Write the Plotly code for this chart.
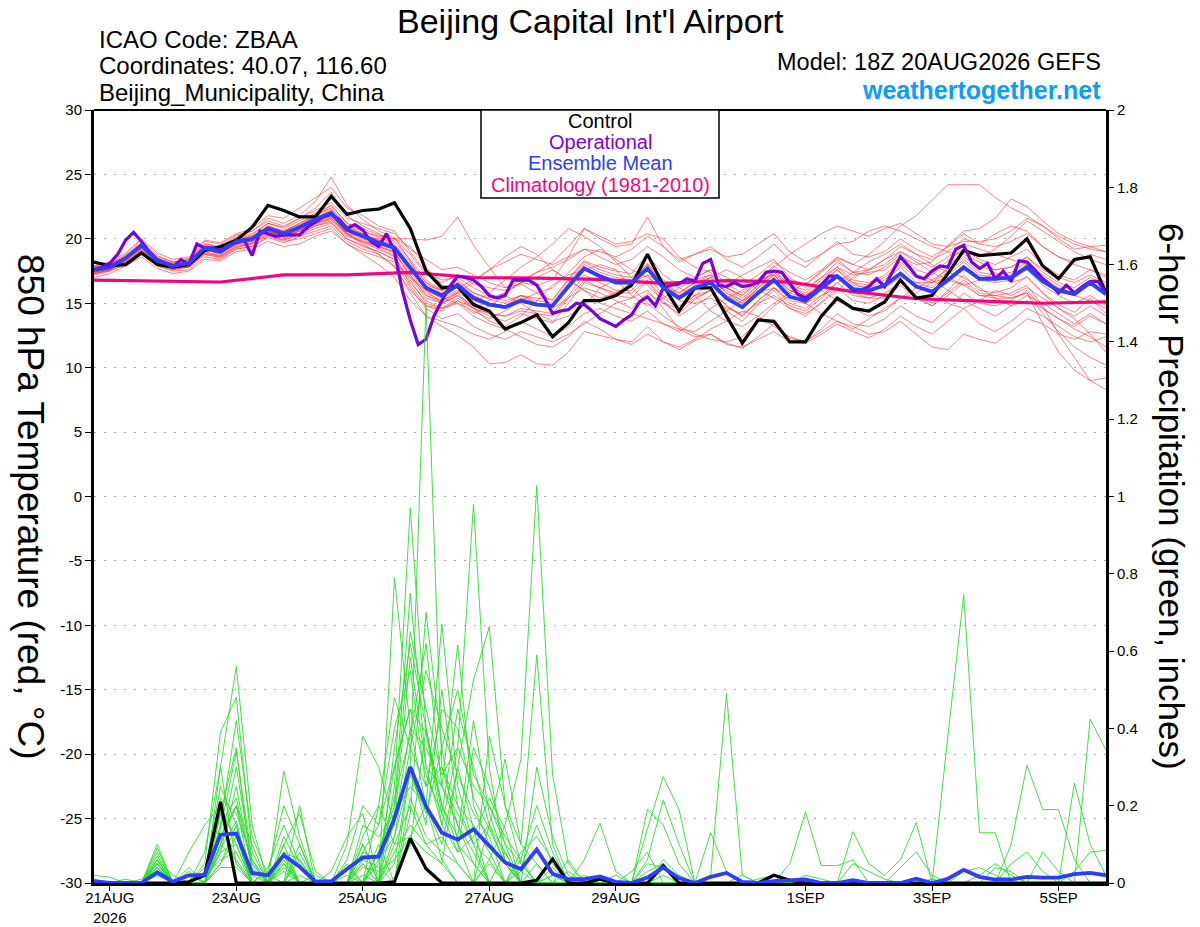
import pandas as pd
import plotly.graph_objects as go

# forecast time steps (GEFS 18Z 20AUG2026 run)
start = "2026-08-20 18:00"
steps_6h = pd.date_range(start, periods=65, freq="6h")
steps_3h = pd.date_range(start, periods=129, freq="3h")
clim_days = pd.date_range(start, periods=17, freq="24h")

# 850 hPa temperature, deg C
control_t = [
    18.2, 17.9, 18.0, 18.9, 18.0, 17.8, 18.0, 19.1, 19.4, 19.9,
    20.9, 22.6, 22.2, 21.7, 21.7, 23.3, 21.9, 22.2, 22.3, 22.8,
    20.8, 17.5, 16.2, 16.3, 14.9, 14.4, 13.0, 13.5, 14.1, 12.4,
    13.5, 15.2, 15.2, 15.6, 16.4, 18.8, 16.4, 14.4, 16.2, 16.2,
    14.0, 11.9, 13.7, 13.6, 12.0, 12.0, 14.0, 15.4, 14.6, 14.4,
    15.1, 16.8, 15.4, 15.6, 17.3, 19.1, 18.7, 18.8, 18.9, 20.0,
    17.9, 16.9, 18.4, 18.6, 15.8,
]
mean_t = [
    17.6, 17.8, 18.5, 19.5, 18.3, 17.9, 18.1, 19.3, 19.0, 19.8,
    20.0, 20.8, 20.4, 20.9, 21.5, 22.0, 20.7, 20.2, 19.7, 19.3,
    17.8, 16.2, 15.6, 16.4, 15.4, 14.9, 14.7, 15.2, 14.9, 14.8,
    16.3, 17.7, 17.1, 16.6, 16.6, 17.7, 16.2, 15.4, 16.2, 16.6,
    15.4, 14.7, 15.8, 16.8, 15.5, 15.2, 16.2, 17.1, 16.1, 16.0,
    16.4, 17.3, 16.3, 15.9, 16.8, 17.8, 16.9, 16.9, 17.0, 17.8,
    16.7, 16.0, 15.7, 16.6, 15.7,
]
# operational run is 3-hourly
oper_t = [
    17.6, 17.8, 18.1, 18.8, 19.9, 20.5, 19.8, 19.0, 18.4, 18.1,
    17.8, 18.4, 18.0, 19.6, 19.3, 19.3, 19.1, 19.5, 19.7, 19.9,
    18.7, 20.6, 20.4, 20.2, 20.3, 20.3, 20.3, 20.9, 21.3, 21.7,
    21.9, 21.5, 20.8, 21.1, 20.7, 19.8, 19.4, 20.4, 19.0, 16.0,
    13.7, 11.8, 12.2, 14.0, 15.2, 16.3, 17.1, 17.0, 16.8, 16.3,
    15.6, 15.4, 15.6, 16.8, 16.8, 16.8, 16.4, 15.4, 14.2, 14.4,
    14.5, 15.0, 14.9, 14.4, 13.8, 13.5, 13.2, 13.7, 14.1, 15.1,
    15.5, 14.8, 16.2, 16.4, 16.5, 16.9, 16.7, 18.1, 18.4, 16.4,
    16.3, 16.6, 16.3, 16.4, 16.6, 17.4, 17.5, 17.4, 16.6, 15.7,
    15.4, 15.8, 16.4, 17.1, 17.1, 16.6, 16.0, 16.0, 16.3, 16.9,
    16.3, 17.5, 18.6, 17.9, 17.1, 16.9, 17.5, 17.9, 17.8, 19.2,
    19.5, 18.2, 17.7, 18.1, 16.9, 17.5, 16.7, 18.3, 18.2, 17.6,
    16.9, 16.4, 15.8, 16.4, 15.8, 16.3, 16.7, 16.7, 15.8,
]
# daily climatology (1981-2010)
clim_t = [16.8, 16.7, 16.65, 17.2, 17.2, 17.4, 17.0, 16.95, 16.85,
          16.55, 16.75, 16.65, 15.9, 15.35, 15.15, 15.0, 15.1]

# 6-hour precipitation, inches
control_p = [
    0, 0, 0, 0, 0, 0, .003, .02, .21, 0,
    0, 0, 0, 0, 0, 0, 0, 0, 0, .003,
    .115, .037, 0, 0, 0, 0, 0, 0, .007, .062,
    0, 0, .01, 0, 0, 0, .045, 0, 0, 0,
    0, 0, 0, .02, .007, 0, 0, 0, 0, 0,
    0, 0, 0, 0, 0, 0, 0, 0, 0, 0,
    0, 0, 0, 0, 0,
]
mean_p = [
    .005, 0, 0, 0, .028, .003, .02, .021, .125, .128,
    .026, .02, .072, .042, .004, .004, .036, .066, .068, .167,
    .30, .198, .13, .112, .139, .097, .053, .036, .087, .024,
    .01, .01, .017, .003, 0, .014, .04, .013, 0, .016,
    .026, .003, 0, .005, .007, .009, 0, 0, .007, 0,
    0, 0, .011, 0, .011, .034, .016, .009, .009, .016,
    .014, .014, .023, .026, .02,
]

# ensemble members, temperature
member_t = [
    [17.8, 18.0, 18.8, 19.9, 18.7, 18.2, 18.5, 19.8, 19.6, 20.3,
     20.6, 21.6, 21.2, 21.8, 22.9, 24.8, 22.6, 21.5, 20.6, 20.1,
     18.3, 16.0, 15.0, 15.8, 14.6, 14.0, 13.6, 14.2, 13.8, 13.5,
     15.0, 16.6, 16.2, 15.6, 15.4, 16.8, 15.0, 14.2, 15.3, 16.0,
     14.4, 13.6, 14.9, 16.0, 14.6, 14.0, 15.1, 16.2, 15.2, 15.0,
     15.6, 16.7, 15.5, 14.8, 16.0, 17.2, 16.0, 15.8, 16.2, 17.1,
     15.8, 14.9, 14.3, 15.4, 14.2],
    [17.4, 17.7, 18.3, 19.2, 18.1, 17.8, 18.0, 19.1, 18.9, 19.6,
     20.0, 20.6, 20.1, 20.6, 21.2, 21.6, 20.4, 20.2, 20.0, 20.0,
     20.0, 19.9, 20.2, 21.7, 19.5, 17.8, 16.2, 16.5, 15.8, 15.2,
     16.9, 18.3, 17.8, 17.5, 17.3, 18.8, 17.2, 16.4, 17.0, 17.6,
     16.5, 15.8, 16.9, 17.9, 16.8, 16.5, 17.5, 18.4, 17.4, 17.2,
     17.8, 18.8, 17.6, 17.2, 18.3, 19.2, 18.4, 18.0, 18.6, 19.2,
     18.0, 17.2, 16.8, 17.6, 17.0],
    [17.2, 17.5, 18.0, 18.8, 17.9, 17.5, 17.6, 18.6, 18.4, 19.2,
     19.4, 20.1, 19.7, 20.2, 20.6, 21.0, 19.8, 19.2, 18.8, 17.9,
     15.8, 14.0, 13.2, 12.5, 11.6, 10.3, 10.4, 11.0, 10.3, 10.2,
     11.2, 12.8, 12.5, 12.2, 12.0, 13.2, 12.0, 11.4, 12.1, 12.6,
     11.9, 11.5, 12.4, 13.4, 12.3, 12.0, 13.0, 14.2, 13.4, 13.2,
     13.8, 14.8, 14.0, 13.5, 14.6, 15.8, 15.0, 14.8, 15.2, 16.0,
     14.6, 13.8, 13.2, 14.0, 13.4],
    [17.7, 17.9, 18.6, 19.6, 18.4, 18.0, 18.2, 19.4, 19.2, 19.9,
     20.2, 21.0, 20.6, 21.2, 21.8, 22.3, 21.0, 20.6, 20.1, 19.6,
     18.2, 16.6, 16.0, 16.6, 15.8, 15.3, 15.0, 15.6, 15.4, 15.3,
     16.8, 18.2, 17.6, 17.2, 17.0, 18.1, 16.8, 16.2, 16.8, 17.2,
     16.2, 15.6, 16.6, 17.4, 16.5, 16.4, 17.4, 18.5, 18.0, 18.8,
     19.8, 21.0, 21.8, 23.0, 24.2, 24.2, 24.2, 23.2, 22.4, 21.8,
     21.0, 20.2, 19.6, 19.2, 19.0],
    [17.5, 17.6, 18.4, 19.3, 18.2, 17.7, 18.0, 19.2, 18.8, 19.6,
     19.8, 20.6, 20.3, 20.6, 21.3, 21.8, 20.4, 19.9, 19.4, 19.0,
     17.2, 15.6, 15.2, 15.9, 15.0, 15.8, 16.8, 17.8, 18.6, 19.6,
     20.8, 20.2, 19.4, 18.2, 17.0, 16.4, 15.2, 14.0, 14.8, 15.6,
     16.4, 17.2, 17.8, 18.4, 17.0, 16.2, 17.0, 17.8, 17.2, 17.4,
     17.6, 18.6, 18.0, 18.2, 19.5, 20.6, 20.8, 21.6, 23.1, 22.5,
     21.4, 20.4, 19.8, 19.4, 19.5],
    [17.6, 17.8, 18.4, 19.4, 18.2, 17.9, 18.0, 19.2, 19.0, 19.7,
     19.8, 20.6, 20.2, 20.7, 21.2, 21.7, 20.6, 20.0, 19.5, 19.0,
     17.0, 15.4, 15.0, 15.6, 14.8, 14.2, 14.0, 14.6, 14.4, 14.2,
     15.6, 17.2, 16.6, 16.0, 16.0, 17.2, 15.6, 14.8, 15.6, 16.0,
     14.8, 14.0, 15.2, 16.2, 15.0, 14.6, 15.6, 16.6, 15.6, 15.4,
     15.8, 16.6, 15.6, 15.0, 15.8, 16.8, 15.8, 15.6, 15.4, 15.8,
     13.4, 11.2, 9.8, 9.0, 8.3],
    [17.3, 17.6, 18.2, 19.0, 18.0, 17.6, 17.9, 18.9, 18.7, 19.4,
     19.7, 20.4, 20.0, 20.4, 21.0, 21.4, 20.2, 19.8, 19.3, 18.7,
     16.4, 14.8, 14.4, 15.2, 14.6, 13.6, 13.2, 14.0, 15.2, 16.4,
     17.2, 17.6, 18.0, 17.6, 16.2, 15.0, 14.0, 13.2, 12.6, 12.2,
     12.0, 12.4, 13.6, 14.8, 15.6, 15.0, 14.2, 13.6, 13.0, 13.8,
     14.6, 15.4, 15.8, 16.6, 17.0, 16.4, 15.6, 15.6, 15.8, 16.4,
     14.8, 12.6, 10.8, 9.0, 9.2],
    [17.9, 18.1, 18.7, 19.7, 18.6, 18.2, 18.4, 19.6, 19.3, 20.1,
     20.4, 21.2, 20.8, 21.4, 22.0, 22.6, 21.2, 20.8, 20.3, 20.0,
     18.8, 17.2, 16.6, 17.2, 16.5, 16.2, 16.0, 16.6, 16.4, 16.8,
     18.6, 20.8, 20.0, 19.4, 19.6, 21.7, 19.4, 18.2, 18.8, 19.4,
     18.4, 17.8, 18.6, 19.6, 18.4, 17.8, 18.8, 19.8, 18.8, 18.6,
     19.0, 20.0, 19.2, 18.6, 19.4, 20.4, 19.6, 19.4, 19.8, 20.4,
     19.4, 18.6, 18.2, 18.8, 18.4],
    [17.4, 17.7, 18.2, 19.1, 18.0, 17.7, 17.8, 18.9, 18.6, 19.4,
     19.6, 20.3, 19.9, 20.4, 21.0, 21.3, 20.0, 19.4, 19.0, 18.4,
     16.2, 14.6, 13.8, 14.2, 13.2, 12.6, 12.2, 12.8, 12.4, 12.0,
     12.6, 13.4, 14.2, 15.0, 15.4, 16.0, 14.6, 13.0, 12.4, 12.6,
     11.8, 11.6, 12.2, 12.8, 12.0, 11.9, 12.6, 13.4, 12.8, 12.3,
     13.0, 14.0, 13.2, 12.6, 13.6, 14.6, 13.4, 12.8, 13.6, 14.6,
     14.0, 13.2, 12.4, 12.0, 12.4],
    [17.6, 17.9, 18.6, 19.5, 18.4, 18.0, 18.3, 19.4, 19.1, 19.9,
     20.1, 20.9, 20.5, 21.0, 21.6, 22.2, 20.8, 20.3, 19.9, 19.5,
     18.0, 16.6, 15.8, 16.6, 15.6, 15.0, 14.8, 15.6, 15.2, 15.0,
     16.6, 18.0, 17.4, 17.0, 16.8, 18.0, 16.4, 15.6, 16.4, 17.0,
     15.8, 15.0, 16.2, 17.2, 15.8, 15.4, 16.6, 17.6, 16.4, 16.2,
     16.8, 17.8, 16.6, 16.2, 17.2, 18.2, 17.2, 17.0, 17.2, 18.0,
     16.8, 16.0, 15.6, 16.6, 15.8],
    [17.5, 17.8, 18.5, 19.4, 18.3, 17.8, 18.1, 19.2, 19.0, 19.7,
     20.0, 20.8, 20.5, 21.0, 21.8, 22.6, 21.2, 20.6, 20.2, 20.0,
     19.4, 17.8, 16.4, 16.2, 16.8, 17.6, 18.2, 18.8, 18.4, 18.0,
     18.6, 19.2, 19.0, 18.6, 19.2, 20.2, 19.4, 18.4, 18.8, 19.2,
     18.6, 18.8, 19.6, 20.4, 19.0, 18.2, 18.8, 19.6, 19.8, 20.6,
     21.0, 20.6, 20.0, 19.4, 19.0, 18.8, 18.2, 17.6, 17.8, 18.6,
     17.6, 17.0, 16.6, 17.2, 16.6],
    [17.4, 17.6, 18.3, 19.2, 18.1, 17.7, 17.9, 19.0, 18.7, 19.5,
     19.7, 20.5, 20.1, 20.6, 21.1, 21.5, 20.3, 19.7, 19.2, 18.6,
     16.8, 15.0, 14.6, 15.2, 14.2, 14.8, 15.6, 15.0, 14.2, 13.6,
     14.0, 14.8, 16.2, 16.8, 15.6, 14.8, 15.4, 16.2, 15.6, 14.4,
     13.6, 13.2, 14.0, 15.0, 15.8, 16.6, 16.0, 15.2, 14.6, 14.0,
     14.4, 15.4, 16.2, 16.8, 16.0, 15.2, 14.6, 14.0, 14.8, 15.6,
     15.0, 14.2, 13.4, 14.2, 13.4],
    [17.7, 18.0, 18.6, 19.6, 18.4, 18.1, 18.3, 19.5, 19.2, 20.0,
     20.2, 21.0, 20.6, 21.2, 21.9, 22.4, 21.0, 20.4, 19.9, 19.4,
     17.6, 16.0, 15.4, 16.0, 15.2, 14.8, 14.6, 15.2, 14.8, 14.8,
     16.4, 17.8, 17.2, 16.8, 16.8, 17.8, 16.4, 15.8, 16.6, 17.2,
     16.2, 15.6, 16.8, 17.8, 18.8, 19.6, 20.4, 21.0, 20.6, 20.2,
     20.8, 21.2, 20.4, 19.6, 19.4, 19.8, 19.8, 20.0, 20.6, 21.6,
     21.0, 20.0, 19.2, 19.4, 19.0],
    [17.6, 17.7, 18.4, 19.3, 18.2, 17.8, 18.0, 19.1, 18.9, 19.6,
     19.9, 20.6, 20.3, 20.8, 21.3, 21.9, 20.6, 20.1, 19.6, 19.2,
     17.4, 15.8, 15.2, 15.8, 16.6, 17.6, 18.6, 19.4, 18.8, 17.6,
     16.8, 16.0, 15.4, 15.8, 16.6, 17.2, 16.4, 15.6, 16.2, 17.0,
     17.6, 17.0, 16.0, 15.4, 14.6, 14.2, 15.0, 16.0, 17.0, 17.6,
     18.4, 19.0, 18.2, 17.4, 16.8, 16.4, 16.8, 17.4, 16.6, 17.0,
     15.8, 14.6, 13.8, 12.6, 11.2],
    [17.8, 18.0, 18.6, 19.5, 18.5, 18.0, 18.2, 19.3, 19.1, 19.8,
     20.1, 20.9, 20.6, 21.1, 21.7, 22.1, 20.9, 20.4, 19.8, 19.4,
     17.9, 16.4, 16.0, 16.8, 15.8, 15.4, 15.8, 16.6, 17.4, 18.2,
     19.4, 20.8, 20.2, 19.6, 19.8, 20.4, 20.0, 18.6, 17.8, 17.4,
     16.2, 15.4, 16.4, 17.4, 16.2, 15.8, 16.8, 17.8, 16.8, 16.6,
     17.2, 18.2, 17.2, 16.8, 17.6, 18.6, 17.8, 17.6, 17.8, 18.6,
     17.4, 16.6, 16.2, 17.0, 16.4],
    [17.5, 17.8, 18.4, 19.4, 18.3, 17.9, 18.0, 19.2, 19.0, 19.8,
     20.0, 20.8, 20.4, 20.8, 21.4, 21.8, 20.4, 19.6, 18.8, 17.8,
     16.0, 14.8, 14.6, 15.4, 14.6, 14.2, 14.0, 14.4, 14.2, 14.0,
     15.4, 16.8, 16.2, 15.8, 15.8, 16.8, 15.4, 14.6, 15.4, 16.0,
     14.8, 14.0, 15.2, 16.2, 15.2, 15.0, 16.0, 17.0, 16.0, 15.8,
     16.4, 17.4, 16.4, 15.8, 16.6, 17.6, 16.8, 16.6, 16.8, 17.6,
     16.4, 15.6, 15.0, 15.6, 14.8],
    [17.6, 17.8, 18.5, 19.6, 18.4, 18.0, 18.2, 19.4, 19.2, 20.0,
     20.3, 21.2, 20.9, 21.6, 22.4, 23.6, 21.8, 21.0, 20.4, 19.8,
     18.4, 16.8, 16.0, 16.4, 15.6, 15.0, 14.8, 15.4, 15.0, 14.8,
     16.2, 17.6, 17.0, 16.6, 16.6, 17.6, 16.2, 15.4, 16.0, 16.6,
     15.6, 15.0, 16.2, 17.2, 16.0, 15.6, 16.6, 17.6, 16.6, 16.4,
     17.0, 18.0, 17.0, 16.6, 17.4, 18.4, 17.4, 17.2, 17.4, 18.2,
     17.0, 16.2, 15.8, 16.6, 15.8],
    [17.3, 17.6, 18.2, 19.0, 17.9, 17.6, 17.8, 18.8, 18.6, 19.3,
     19.6, 20.3, 19.9, 20.3, 20.8, 21.2, 20.0, 19.5, 19.0, 18.4,
     16.6, 15.2, 14.6, 15.0, 14.0, 13.4, 13.0, 12.4, 11.8, 11.6,
     12.4, 13.6, 13.0, 12.2, 11.8, 12.6, 12.0, 11.6, 12.2, 13.0,
     13.6, 14.4, 14.0, 13.2, 12.4, 12.0, 12.8, 13.6, 13.2, 12.6,
     12.8, 13.6, 12.6, 11.6, 11.4, 12.6, 12.2, 11.9, 12.8, 13.8,
     13.4, 12.6, 12.2, 12.8, 12.6],
    [17.7, 17.9, 18.5, 19.5, 18.4, 18.0, 18.1, 19.3, 19.0, 19.8,
     20.1, 20.9, 20.5, 21.0, 21.6, 22.0, 20.7, 20.2, 19.7, 19.3,
     17.8, 16.2, 15.6, 16.3, 15.4, 14.9, 14.7, 15.3, 15.0, 14.8,
     16.4, 17.8, 17.2, 16.8, 16.8, 18.0, 16.6, 15.8, 16.6, 17.0,
     15.8, 15.2, 16.4, 17.6, 16.4, 16.0, 17.0, 18.2, 17.4, 17.6,
     18.4, 19.4, 18.8, 18.4, 19.0, 20.0, 19.6, 20.4, 21.0, 20.6,
     19.4, 18.6, 18.0, 17.6, 17.2],
    [17.5, 17.7, 18.4, 19.3, 18.2, 17.8, 18.0, 19.1, 18.9, 19.6,
     19.9, 20.6, 20.2, 20.7, 21.2, 21.6, 20.4, 19.8, 19.4, 18.9,
     17.2, 15.6, 15.0, 15.6, 14.6, 15.2, 15.8, 16.6, 17.0, 17.6,
     16.8, 16.0, 15.0, 14.6, 14.2, 13.8, 13.4, 13.0, 12.8, 13.6,
     14.4, 15.2, 15.8, 16.2, 15.6, 15.0, 15.6, 16.2, 15.8, 15.4,
     15.4, 16.4, 15.4, 14.8, 15.6, 16.6, 15.6, 15.4, 15.4, 15.8,
     14.2, 12.8, 11.6, 10.8, 10.2],
    [17.0, 17.3, 17.9, 18.6, 17.7, 17.3, 17.5, 18.4, 18.3, 19.0,
     19.2, 19.8, 19.4, 19.6, 20.2, 20.6, 19.6, 19.0, 18.6, 18.2,
     17.0, 16.0, 15.4, 15.0, 14.4, 13.8, 14.4, 15.2, 15.8, 16.2,
     17.4, 18.6, 19.2, 18.4, 17.6, 17.0, 16.2, 15.2, 15.0, 15.4,
     14.6, 14.2, 15.0, 15.6, 14.8, 14.4, 15.4, 16.6, 17.4, 18.2,
     18.8, 19.6, 18.8, 18.0, 17.4, 17.0, 16.2, 15.4, 14.8, 15.2,
     14.6, 13.8, 13.0, 12.4, 11.6],
    [17.9, 18.2, 18.9, 20.0, 18.9, 18.4, 18.6, 19.9, 19.7, 20.4,
     20.8, 21.8, 21.6, 22.4, 23.2, 24.0, 22.4, 21.8, 21.0, 20.6,
     19.0, 17.4, 16.8, 17.0, 16.2, 15.6, 15.2, 15.6, 15.0, 14.6,
     15.4, 16.2, 15.8, 15.2, 14.6, 15.8, 15.0, 14.6, 15.6, 16.6,
     16.0, 15.2, 16.0, 17.0, 16.0, 15.6, 16.4, 17.2, 16.6, 16.0,
     16.2, 17.0, 16.6, 16.6, 17.8, 19.0, 18.6, 19.2, 20.2, 21.4,
     20.6, 19.8, 19.0, 18.4, 18.0],
    [17.3, 17.5, 18.1, 19.1, 18.1, 17.7, 17.8, 18.8, 18.5, 19.2,
     19.4, 20.2, 19.8, 20.0, 20.4, 20.8, 19.6, 18.8, 18.0, 17.0,
     15.2, 14.0, 13.6, 13.2, 12.6, 12.2, 12.8, 13.6, 13.0, 12.4,
     13.2, 14.2, 14.6, 14.0, 13.6, 14.4, 13.4, 12.8, 13.6, 14.6,
     15.4, 16.0, 16.8, 17.2, 16.4, 15.6, 16.2, 17.0, 16.2, 15.8,
     16.4, 17.2, 16.4, 15.8, 15.0, 14.6, 15.2, 16.0, 15.6, 16.2,
     15.4, 14.6, 14.0, 14.8, 14.0],
    [17.6, 17.9, 18.6, 19.7, 18.5, 18.1, 18.4, 19.6, 19.4, 20.2,
     20.6, 21.4, 21.0, 21.6, 22.2, 22.8, 21.6, 21.2, 20.8, 20.4,
     19.2, 18.4, 17.6, 17.8, 17.2, 16.6, 16.2, 16.8, 17.4, 17.8,
     18.4, 19.2, 18.6, 18.0, 18.4, 19.4, 18.6, 17.6, 17.0, 17.6,
     17.0, 16.4, 17.2, 18.2, 17.4, 16.8, 17.6, 18.6, 18.0, 17.6,
     18.0, 19.0, 18.4, 17.8, 18.6, 19.6, 19.2, 18.8, 18.4, 18.0,
     17.2, 16.4, 15.6, 15.2, 14.6],
]

# ensemble members, precipitation
member_p = [
    [0, 0, 0, 0, .03, 0, 0, 0, .30, .56,
     .15, 0, .05, 0, 0, 0, 0, .10, 0, .25,
     .97, .40, .20, .10, 0, .05, 0, 0, .05, 0,
     0, 0, 0, 0, 0, 0, .02, 0, 0, 0,
     0, 0, 0, 0, 0, 0, 0, 0, 0, 0,
     0, 0, 0, 0, 0, 0, 0, 0, 0, 0,
     0, 0, 0, 0, 0],
    [0, 0, 0, 0, .10, 0, 0, .05, .39, .48,
     .08, 0, 0, .20, 0, 0, .05, 0, .10, 0,
     .30, 1.50, .30, .15, .05, 0, 0, .03, 0, 0,
     0, 0, 0, 0, 0, 0, 0, 0, 0, .02,
     .49, .02, 0, 0, 0, 0, 0, 0, 0, 0,
     0, 0, 0, 0, 0, 0, 0, 0, 0, 0,
     0, 0, 0, 0, 0],
    [0, 0, 0, 0, .06, 0, .08, .15, .20, .10,
     0, 0, .29, .12, 0, 0, 0, .05, 0, .79,
     .40, .20, .67, .25, .10, 0, 0, 0, 0, .02,
     0, 0, 0, 0, 0, 0, 0, 0, 0, 0,
     0, 0, 0, 0, 0, 0, 0, 0, 0, 0,
     0, 0, 0, 0, .38, .745, .13, .13, 0, 0,
     0, 0, 0, 0, 0],
    [0, 0, 0, 0, .05, 0, 0, 0, .10, .30,
     .05, 0, .10, 0, 0, 0, .10, .38, .30, .15,
     .585, .30, .25, .616, .20, .10, .05, 0, 0, 0,
     0, 0, 0, 0, 0, .14, .275, .19, 0, 0,
     0, 0, 0, 0, 0, 0, 0, 0, 0, 0,
     0, 0, 0, 0, 0, 0, 0, 0, 0, 0,
     0, 0, 0, 0, 0],
    [0, 0, 0, 0, .08, 0, 0, .03, .25, .15,
     0, .04, .15, .05, 0, 0, 0, 0, .05, .30,
     .45, .39, .15, .35, .98, .30, .05, 0, 0, 0,
     0, .06, .155, .03, 0, 0, 0, 0, 0, 0,
     0, 0, 0, 0, .05, .184, .045, .045, .06, 0,
     0, 0, 0, 0, 0, 0, 0, 0, 0, 0,
     0, 0, 0, 0, 0],
    [0, 0, 0, 0, .04, 0, 0, 0, .15, .22,
     .04, 0, 0, .10, 0, 0, 0, .15, .12, .18,
     .25, .20, .10, .30, .525, .663, .20, .05, 0, 0,
     0, 0, 0, 0, 0, .19, .15, .05, 0, 0,
     0, 0, 0, 0, 0, 0, 0, 0, 0, 0,
     0, 0, 0, 0, 0, 0, 0, 0, 0, 0,
     0, 0, 0, 0, 0],
    [0, 0, 0, 0, .02, 0, 0, .08, .30, .05,
     0, 0, .08, 0, 0, 0, 0, 0, 0, .10,
     .20, .10, .12, .05, 0, .06, .15, .32, 1.028, .28,
     .05, 0, 0, 0, 0, 0, 0, 0, 0, .13,
     .03, 0, 0, 0, 0, 0, 0, 0, 0, 0,
     0, 0, 0, 0, 0, 0, 0, 0, 0, 0,
     0, 0, 0, 0, 0],
    [0, 0, 0, 0, .07, 0, .04, 0, .12, .20,
     .10, 0, .06, 0, .02, 0, 0, .08, .15, .40,
     .55, .25, .30, .20, .10, .15, .32, .10, .59, .10,
     0, 0, 0, 0, 0, .06, .215, .10, 0, 0,
     0, 0, 0, 0, 0, 0, 0, 0, 0, 0,
     0, 0, 0, 0, 0, 0, 0, 0, 0, 0,
     0, 0, 0, 0, 0],
    [0, 0, 0, 0, .03, 0, 0, 0, .05, .12,
     0, 0, .03, 0, 0, 0, .02, 0, .20, .10,
     .12, .08, .05, 0, 0, .15, .08, 0, 0, 0,
     0, 0, 0, 0, 0, 0, 0, 0, 0, 0,
     0, 0, 0, 0, 0, 0, 0, 0, .133, .05,
     .02, .06, .156, 0, 0, 0, 0, 0, 0, 0,
     0, 0, 0, 0, 0],
    [0, 0, 0, 0, .06, .02, 0, 0, .18, .35,
     .02, 0, 0, .06, 0, 0, 0, .02, 0, .18,
     .65, .45, .28, .35, .25, .20, .10, .05, 0, 0,
     .06, 0, 0, 0, 0, 0, 0, 0, 0, 0,
     0, 0, 0, 0, 0, 0, 0, 0, 0, 0,
     0, 0, 0, 0, 0, 0, 0, 0, .10, .305,
     .19, .19, .06, 0, 0],
    [0, 0, 0, 0, .04, 0, 0, 0, .08, .10,
     0, 0, .12, .04, 0, 0, 0, 0, .06, .12,
     .35, .55, .40, .28, .18, .12, 0, .08, .12, .06,
     0, 0, 0, 0, 0, 0, 0, 0, 0, 0,
     0, 0, 0, 0, 0, 0, 0, 0, 0, 0,
     0, 0, 0, 0, 0, 0, 0, 0, 0, 0,
     0, 0, .258, .10, .02],
    [0, 0, 0, .01, .05, 0, 0, 0, .22, .18,
     .06, 0, 0, 0, 0, 0, 0, .05, 0, 0,
     .18, .70, .35, .10, .05, 0, 0, 0, 0, .04,
     0, 0, 0, 0, 0, 0, 0, 0, 0, 0,
     0, 0, 0, 0, 0, 0, 0, 0, 0, 0,
     0, 0, 0, 0, 0, 0, 0, 0, 0, 0,
     0, 0, 0, .424, .344],
    [0, 0, 0, 0, .02, 0, 0, .02, .06, .08,
     0, 0, .04, 0, 0, 0, 0, 0, 0, .05,
     .30, .15, .50, .20, .15, .08, 0, 0, 0, 0,
     0, 0, 0, 0, 0, .05, .04, 0, 0, 0,
     0, 0, 0, 0, 0, 0, 0, 0, 0, 0,
     0, .04, .08, .02, 0, 0, 0, 0, 0, 0,
     0, 0, 0, 0, 0],
    [0, 0, 0, 0, .05, 0, 0, 0, .10, .06,
     0, 0, .10, .18, .03, 0, 0, 0, .08, .20,
     .75, .30, .15, .08, .35, .25, .10, 0, 0, 0,
     0, 0, 0, 0, 0, 0, 0, 0, 0, 0,
     0, 0, 0, 0, 0, 0, 0, 0, 0, 0,
     0, 0, 0, 0, 0, 0, 0, 0, 0, 0,
     0, 0, .03, .08, .084],
    [0, 0, 0, 0, .03, 0, 0, 0, .04, .04,
     0, 0, 0, 0, 0, 0, 0, .04, .03, .06,
     .12, .20, .06, 0, 0, 0, 0, .04, .15, .05,
     0, 0, 0, 0, 0, 0, 0, 0, 0, 0,
     0, 0, 0, 0, 0, .02, .01, 0, 0, 0,
     0, 0, 0, 0, 0, .03, .04, .02, 0, 0,
     .08, .03, 0, 0, 0],
    [0, 0, 0, 0, .09, 0, 0, 0, .15, .42,
     .12, .02, 0, .08, 0, 0, 0, .12, .20, .48,
     .35, .25, .45, .40, .22, .14, .05, 0, 0, 0,
     0, 0, 0, 0, 0, 0, .06, .02, 0, 0,
     0, 0, 0, 0, 0, 0, 0, 0, 0, 0,
     0, 0, 0, 0, 0, 0, 0, 0, 0, 0,
     0, 0, 0, 0, 0],
    [0, 0, 0, 0, .04, 0, 0, 0, .18, .12,
     0, 0, .07, 0, 0, 0, 0, .06, .04, 0,
     .22, .12, .08, .05, 0, .38, .20, .10, .05, 0,
     0, 0, 0, 0, 0, 0, 0, 0, 0, 0,
     0, .02, 0, 0, 0, 0, 0, 0, 0, 0,
     0, 0, 0, 0, 0, 0, 0, 0, .05, .08,
     .03, 0, 0, 0, 0],
    [0, 0, 0, 0, .06, 0, 0, 0, .08, .25,
     .03, 0, .05, 0, 0, 0, .04, 0, 0, 0,
     .10, .40, .20, .12, .42, .18, .06, 0, 0, 0,
     0, 0, 0, .02, 0, .03, .05, 0, 0, 0,
     0, 0, 0, 0, 0, 0, 0, 0, 0, 0,
     0, 0, 0, .01, 0, 0, 0, .04, .03, 0,
     0, 0, 0, 0, 0],
    [.02, .015, 0, 0, .02, 0, 0, 0, .05, .15,
     0, 0, 0, .02, 0, 0, 0, 0, 0, .08,
     .15, .10, .05, .30, .14, 0, .08, 0, 0, .02,
     0, 0, 0, 0, 0, 0, 0, 0, 0, 0,
     0, 0, 0, 0, 0, 0, 0, 0, .05, .03,
     .01, 0, 0, 0, 0, 0, 0, 0, 0, 0,
     0, 0, 0, 0, 0],
    [.01, 0, 0, 0, .05, 0, .03, 0, .12, .20,
     .05, 0, .05, 0, 0, 0, 0, .08, .06, .15,
     .40, .35, .25, .18, .10, .06, 0, 0, 0, 0,
     .03, 0, 0, 0, 0, 0, 0, 0, 0, 0,
     0, 0, .01, .02, 0, 0, 0, 0, 0, 0,
     0, 0, 0, 0, 0, 0, 0, 0, 0, 0,
     0, 0, 0, 0, 0],
    [0, 0, 0, 0, .04, 0, 0, 0, .10, .20,
     0, 0, 0, 0, 0, 0, .06, .20, .15, .30,
     .45, .28, .18, .45, .30, .15, .05, 0, 0, 0,
     0, 0, 0, 0, 0, 0, 0, 0, 0, 0,
     0, 0, 0, 0, 0, 0, 0, 0, 0, 0,
     0, 0, 0, 0, 0, 0, 0, 0, 0, 0,
     0, 0, 0, 0, 0],
    [0, 0, .01, 0, .06, 0, 0, .04, .18, .05,
     0, .03, .20, .10, 0, 0, 0, 0, .08, .22,
     .38, .62, .25, .15, .08, 0, 0, .06, .20, .08,
     0, 0, 0, 0, .03, .08, 0, 0, 0, 0,
     0, 0, 0, 0, 0, 0, 0, 0, 0, 0,
     0, 0, 0, 0, 0, 0, 0, 0, 0, 0,
     0, 0, 0, 0, 0],
    [0, 0, 0, 0, .03, 0, 0, 0, .14, .34,
     .06, 0, 0, 0, 0, .03, .12, .18, 0, .12,
     .28, .18, .35, .50, .28, .20, .12, .06, 0, 0,
     0, .02, 0, 0, 0, 0, 0, 0, 0, 0,
     0, 0, 0, 0, 0, 0, 0, 0, 0, 0,
     0, 0, 0, 0, 0, 0, 0, 0, 0, 0,
     0, 0, 0, 0, 0],
    [0, 0, 0, 0, .05, 0, .02, 0, .09, .16,
     0, 0, .08, .06, 0, 0, 0, .10, 0, .35,
     .62, .40, .18, .08, .12, .22, .14, 0, .30, .12,
     .02, 0, 0, 0, 0, 0, 0, 0, 0, 0,
     0, 0, 0, 0, 0, 0, 0, 0, 0, 0,
     0, 0, 0, 0, 0, 0, .02, .05, .02, 0,
     0, 0, 0, 0, 0],
]

# axis ticks
temp_ticks = list(range(-30, 35, 5))
temp_labels = [str(v) for v in temp_ticks]
precip_ticks = [0, 0.2, 0.4, 0.6, 0.8, 1, 1.2, 1.4, 1.6, 1.8, 2]
precip_labels = ["0", "0.2", "0.4", "0.6", "0.8", "1", "1.2", "1.4", "1.6", "1.8", "2"]
date_ticks = ["2026-08-21", "2026-08-23", "2026-08-25", "2026-08-27",
              "2026-08-29", "2026-09-01", "2026-09-03", "2026-09-05"]
date_labels = ["21AUG<br>2026", "23AUG", "25AUG", "27AUG", "29AUG",
               "1SEP", "3SEP", "5SEP"]

FONT = "Liberation Sans, Arial, Helvetica, sans-serif"
# plot box in window pixels
L, R, T, B = 94, 1106, 110, 883
W, H = 1200, 927


def px(xp):
    return (xp - L) / (R - L)


def py(yp):
    return (B - yp) / (B - T)


fig = go.Figure()

for m in member_t:
    fig.add_trace(go.Scatter(x=steps_6h, y=m, mode="lines",
                             line=dict(color="rgba(255,45,45,0.75)", width=0.8),
                             hoverinfo="skip"))

fig.add_trace(go.Scatter(x=clim_days, y=clim_t, mode="lines",
                         line=dict(color="#f0077f", width=3.2)))
fig.add_trace(go.Scatter(x=steps_6h, y=control_t, mode="lines",
                         line=dict(color="black", width=3.2)))
fig.add_trace(go.Scatter(x=steps_3h, y=oper_t, mode="lines",
                         line=dict(color="#7b00e0", width=3.2)))
fig.add_trace(go.Scatter(x=steps_6h, y=mean_t, mode="lines",
                         line=dict(color="#2b3dff", width=3.8)))

for m in member_p:
    fig.add_trace(go.Scatter(x=steps_6h, y=m, mode="lines", yaxis="y2",
                             line=dict(color="#2ddc2d", width=0.9),
                             hoverinfo="skip"))

fig.add_trace(go.Scatter(x=steps_6h, y=control_p, mode="lines", yaxis="y2",
                         line=dict(color="black", width=3.2)))
fig.add_trace(go.Scatter(x=steps_6h, y=mean_p, mode="lines", yaxis="y2",
                         line=dict(color="#2b3dff", width=3.8)))

fig.update_layout(
    width=W, height=H,
    margin=dict(l=L, r=W - R, t=T, b=H - B, autoexpand=False),
    plot_bgcolor="white", paper_bgcolor="white",
    showlegend=False,
    font=dict(family=FONT, color="black", size=15),
    xaxis=dict(
        range=[steps_6h[0], steps_6h[-1]], automargin=False,
        tickvals=date_ticks, ticktext=date_labels,
        ticks="outside", ticklen=5, tickcolor="black",
        ticklabelstandoff=-6,
        showline=True, linewidth=3, linecolor="black",
        showgrid=False, zeroline=False,
        tickfont=dict(size=15),
    ),
    yaxis=dict(
        range=[-30, 30], automargin=False,
        tickvals=temp_ticks, ticktext=temp_labels,
        ticks="outside", ticklen=6, tickcolor="black",
        showline=True, linewidth=3, linecolor="black",
        showgrid=True, gridcolor="#a8a8a8", gridwidth=1, griddash="2px,8px",
        zeroline=False, tickfont=dict(size=15),
    ),
    yaxis2=dict(
        range=[0, 2], overlaying="y", side="right", automargin=False,
        tickvals=precip_ticks, ticktext=precip_labels,
        ticks="outside", ticklen=5, tickcolor="black",
        showline=True, linewidth=3, linecolor="black",
        showgrid=False, zeroline=False, tickfont=dict(size=15),
    ),
)

# top border of the plot box
fig.add_shape(type="line", xref="paper", yref="paper", x0=0, x1=1, y0=1, y1=1,
              line=dict(color="black", width=2))

# legend box
fig.add_shape(type="rect", xref="paper", yref="paper",
              x0=px(481), x1=px(719), y0=py(198), y1=py(110),
              line=dict(color="black", width=1.5), fillcolor="white")
legend_items = [("Control", "black", 121), ("Operational", "#7b00e0", 142),
                ("Ensemble Mean", "#2b3dff", 163),
                ("Climatology (1981-2010)", "#f0077f", 185)]
for text, color, ypix in legend_items:
    fig.add_annotation(text=text, xref="paper", yref="paper", x=px(600), y=py(ypix),
                       showarrow=False, xanchor="center", yanchor="middle",
                       font=dict(size=20, color=color))

# header texts
fig.add_annotation(text="Beijing Capital Int'l Airport", xref="paper", yref="paper",
                   x=px(590), y=py(0), showarrow=False, xanchor="center",
                   yanchor="top", font=dict(size=34))
for text, ypix in [("ICAO Code: ZBAA", 40), ("Coordinates: 40.07, 116.60", 66),
                   ("Beijing_Municipality, China", 93)]:
    fig.add_annotation(text=text, xref="paper", yref="paper", x=px(97), y=py(ypix),
                       showarrow=False, xanchor="left", yanchor="middle",
                       font=dict(size=24))
fig.add_annotation(text="Model: 18Z 20AUG2026 GEFS", xref="paper", yref="paper",
                   x=px(1103), y=py(62), showarrow=False, xanchor="right",
                   yanchor="middle", font=dict(size=23.5))
fig.add_annotation(text="<b>weathertogether.net</b>", xref="paper", yref="paper",
                   x=px(1103), y=py(90), showarrow=False, xanchor="right",
                   yanchor="middle", font=dict(size=25, color="#0a9cff"))

# axis titles (both read top to bottom)
fig.add_annotation(text="850 hPa Temperature (red, °C)", xref="paper",
                   yref="paper", x=px(30), y=py(507), showarrow=False,
                   textangle=90, xanchor="center", yanchor="middle",
                   font=dict(size=37))
fig.add_annotation(text="6-hour Precipitation (green, inches)", xref="paper",
                   yref="paper", x=px(1172), y=py(496), showarrow=False,
                   textangle=90, xanchor="center", yanchor="middle",
                   font=dict(size=35))

# drop the default page margin so the figure fills the window exactly
fig.write_html("out.html", config={"displayModeBar": False},
               post_script="document.body.style.margin = '0px';")
